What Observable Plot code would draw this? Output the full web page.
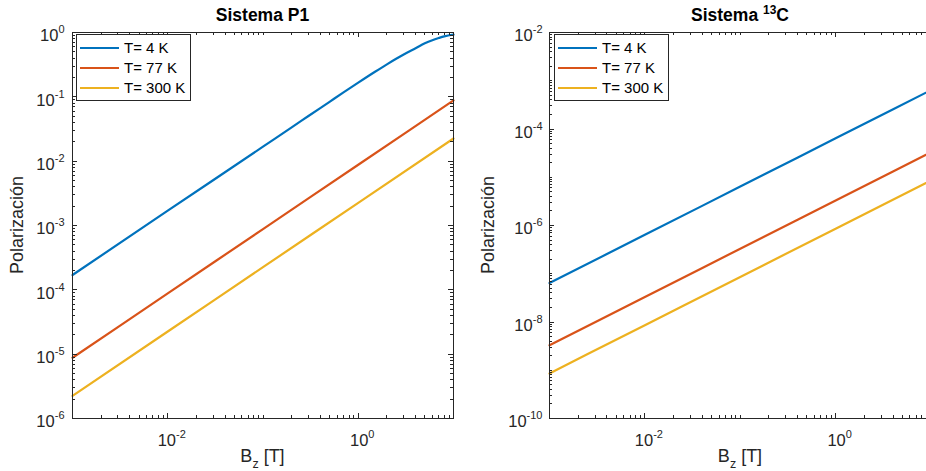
<!DOCTYPE html>
<html>
<head>
<meta charset="utf-8">
<script src="https://cdn.jsdelivr.net/npm/d3@7"></script>
<script src="https://cdn.jsdelivr.net/npm/@observablehq/plot@0.6"></script>
<style>
  html, body { margin: 0; padding: 0; background: #fff; }
  #wrap { position: relative; width: 926px; height: 471px; overflow: hidden; background: #fff; }
  #left, #right { position: absolute; top: 0; height: 471px; }
  #left { left: 0; width: 463px; }
  #right { left: 463px; width: 470px; }
  svg { font-family: "Liberation Sans", Arial, Helvetica, sans-serif; overflow: visible; max-width: none !important; }
</style>
</head>
<body>
<div id="wrap"><div id="left"></div><div id="right"></div></div>
<script>
// ---- data ----
const temps = ["T= 4 K", "T= 77 K", "T= 300 K"];
const colors = ["#0072BD", "#D95319", "#EDB120"];

// Sistema P1
const bP1_4K = [0.001, 0.01, 0.1, 0.2, 0.3, 0.5, 0.7, 1, 1.5, 2, 2.5, 3, 4, 5, 6, 7, 8, 10];
const p1_4K  = [1.7e-4, 1.7e-3, 0.0168, 0.0336, 0.0503, 0.0837, 0.117, 0.166, 0.245, 0.32, 0.39, 0.455, 0.57, 0.68, 0.76, 0.82, 0.87, 0.93];
const bLines = [0.001, 0.01, 0.1, 1, 10];
const p1_77K  = [8.8e-6, 8.8e-5, 8.8e-4, 8.8e-3, 0.088];
const p1_300K = [2.25e-6, 2.25e-5, 2.25e-4, 2.25e-3, 0.0225];

// Sistema 13C
const c13_4K   = [6.4e-8, 6.4e-7, 6.4e-6, 6.4e-5, 6.4e-4];
const c13_77K  = [3.3e-9, 3.3e-8, 3.3e-7, 3.3e-6, 3.3e-5];
const c13_300K = [8.6e-10, 8.6e-9, 8.6e-8, 8.6e-7, 8.6e-6];

// tick labels
const xTickVals = [0.01, 1];
const xTickText = ["10^-2", "10^0"];
const yTickValsP1 = [1, 0.1, 0.01, 1e-3, 1e-4, 1e-5, 1e-6];
const yTickTextP1 = ["10^0", "10^-1", "10^-2", "10^-3", "10^-4", "10^-5", "10^-6"];
const yTickValsC = [1e-2, 1e-4, 1e-6, 1e-8, 1e-10];
const yTickTextC = ["10^-2", "10^-4", "10^-6", "10^-8", "10^-10"];

// ---- helpers ----
function rowsOf(bs, ps, t) { return bs.map((b, i) => ({B: b, P: ps[i], T: t})); }
function minorTicks(lo, hi) { // lo, hi exponents
  const out = [];
  for (let e = lo; e < hi; e++) for (let k = 2; k <= 9; k++) out.push(k * Math.pow(10, e));
  return out;
}
const AX = "#262626";
const FONT = '"Liberation Sans", Arial, sans-serif';
const H = 471, MT = 32, MB = 53;
const PH = H - MT - MB;

function panel({width, ml, mr, ydom, series, yTickVals, yTickText, yLabDx}) {
  const rows = series.flat();
  return Plot.plot({
    width, height: H, marginTop: MT, marginBottom: MB, marginLeft: ml, marginRight: mr,
    style: {fontFamily: FONT, background: "transparent", maxWidth: "none"},
    x: {type: "log", domain: [0.001, 10], axis: null},
    y: {type: "log", domain: ydom, axis: null},
    color: {domain: temps, range: colors},
    marks: [
      Plot.line(rows, {x: "B", y: "P", z: "T", stroke: "T", strokeWidth: 2.2, curve: "monotone-x"}),
      Plot.frame({stroke: AX, strokeWidth: 1}),
      Plot.text(xTickVals.map((v, i) => ({v, t: xTickText[i]})), {
        x: "v", y: ydom[0], text: "t", fontSize: 16.5, fill: AX, dy: 22, dx: 4, textAnchor: "middle"
      }),
      Plot.text(yTickVals.map((v, i) => ({v, t: yTickText[i]})), {
        x: 0.001, y: "v", text: "t", fontSize: 16.5, fill: AX, dx: yLabDx, dy: 3.5, textAnchor: "end"
      })
    ]
  });
}

// inward tick marks, placed with the plot's own scales
function ticks(svg, {width, ml, mr, yMajor, yMinor, xMajor, xMinor, rightTicks = true}) {
  const sx = svg.scale("x"), sy = svg.scale("y");
  const x0 = ml, x1 = width - mr, y0 = MT, y1 = H - MB;
  const g = d3.select(svg).append("g").attr("stroke", AX).attr("stroke-width", 1);
  const addX = (vals, len) => vals.forEach(v => {
    const x = Math.round(sx.apply(v)) + 0.5;
    g.append("line").attr("x1", x).attr("x2", x).attr("y1", y1).attr("y2", y1 - len);
    g.append("line").attr("x1", x).attr("x2", x).attr("y1", y0).attr("y2", y0 + len);
  });
  const addY = (vals, len) => vals.forEach(v => {
    const y = Math.round(sy.apply(v)) + 0.5;
    g.append("line").attr("y1", y).attr("y2", y).attr("x1", x0).attr("x2", x0 + len);
    if (rightTicks) g.append("line").attr("y1", y).attr("y2", y).attr("x1", x1).attr("x2", x1 - len);
  });
  addX(xMajor, 5); addX(xMinor, 3);
  addY(yMajor, 5); addY(yMinor, 3);
}

function supify(svg) {
  d3.select(svg).selectAll("text").each(function() {
    const s = this.textContent;
    const m = /^10\^(.+)$/.exec(s);
    if (!m) return;
    this.textContent = "10";
    d3.select(this).append("tspan").attr("font-size", 11).attr("dy", -8).text(m[1]);
  });
}

function decorate(svg, {cx, title, sup, ylabX}) {
  const g = d3.select(svg).append("g").attr("fill", AX).attr("font-family", FONT);
  const t = g.append("text").attr("x", cx).attr("y", 21).attr("text-anchor", "middle")
    .attr("font-size", 17.5).attr("font-weight", "bold").attr("fill", "#000");
  if (sup) {
    t.append("tspan").text(title[0]);
    t.append("tspan").attr("font-size", 12).attr("dy", -7).text(sup);
    t.append("tspan").attr("dy", 7).text(title[1]);
  } else {
    t.text(title);
  }
  const xl = g.append("text").attr("x", cx).attr("y", 462).attr("text-anchor", "middle").attr("font-size", 18);
  xl.append("tspan").text("B");
  xl.append("tspan").attr("font-size", 12.5).attr("dy", 6).text("z");
  xl.append("tspan").attr("dy", -6).text(" [T]");
  g.append("text").attr("transform", `translate(${ylabX},${MT + PH / 2}) rotate(-90)`)
    .attr("text-anchor", "middle").attr("font-size", 18).text("Polarización");
}

function legend(svg, x0, y0) {
  const g = d3.select(svg).append("g");
  g.append("rect").attr("x", x0 + 0.5).attr("y", y0 + 0.5).attr("width", 114).attr("height", 66)
    .attr("fill", "#fff").attr("stroke", AX).attr("stroke-width", 1);
  temps.forEach((t, i) => {
    const y = y0 + 14 + i * 20;
    g.append("line").attr("x1", x0 + 4).attr("x2", x0 + 43).attr("y1", y).attr("y2", y)
      .attr("stroke", colors[i]).attr("stroke-width", 2.2);
    g.append("text").attr("x", x0 + 48).attr("y", y + 5.3).attr("font-size", 15).attr("fill", "#000")
      .attr("text-anchor", "start").attr("font-family", FONT).text(t);
  });
}

const xMajor = [0.01, 1];
const xMinor = minorTicks(-3, 1).concat([0.001, 0.1, 10]);

// ---- left panel ----
const L = {width: 463, ml: 72, mr: 10};
const leftSvg = panel({
  ...L, ydom: [1e-6, 1],
  series: [rowsOf(bP1_4K, p1_4K, temps[0]), rowsOf(bLines, p1_77K, temps[1]), rowsOf(bLines, p1_300K, temps[2])],
  yTickVals: yTickValsP1, yTickText: yTickTextP1, yLabDx: -8
});
ticks(leftSvg, {...L, xMajor, xMinor, yMajor: yTickValsP1, yMinor: minorTicks(-6, 0)});
supify(leftSvg);
decorate(leftSvg, {cx: 262.5, title: "Sistema P1", ylabX: 23});
legend(leftSvg, 76, 34);
document.getElementById("left").appendChild(leftSvg);

// ---- right panel ----
const R = {width: 470, ml: 86, mr: 2.5};
const rightSvg = panel({
  ...R, ydom: [1e-10, 1e-2],
  series: [rowsOf(bLines, c13_4K, temps[0]), rowsOf(bLines, c13_77K, temps[1]), rowsOf(bLines, c13_300K, temps[2])],
  yTickVals: yTickValsC, yTickText: yTickTextC, yLabDx: -7
});
ticks(rightSvg, {...R, xMajor, xMinor, yMajor: yTickValsC, yMinor: minorTicks(-10, -2).concat([1e-9, 1e-7, 1e-5, 1e-3]), rightTicks: false});
supify(rightSvg);
decorate(rightSvg, {cx: 277, title: ["Sistema ", "C"], sup: "13", ylabX: 31});
legend(rightSvg, 91, 34);
document.getElementById("right").appendChild(rightSvg);
</script>
</body>
</html>
